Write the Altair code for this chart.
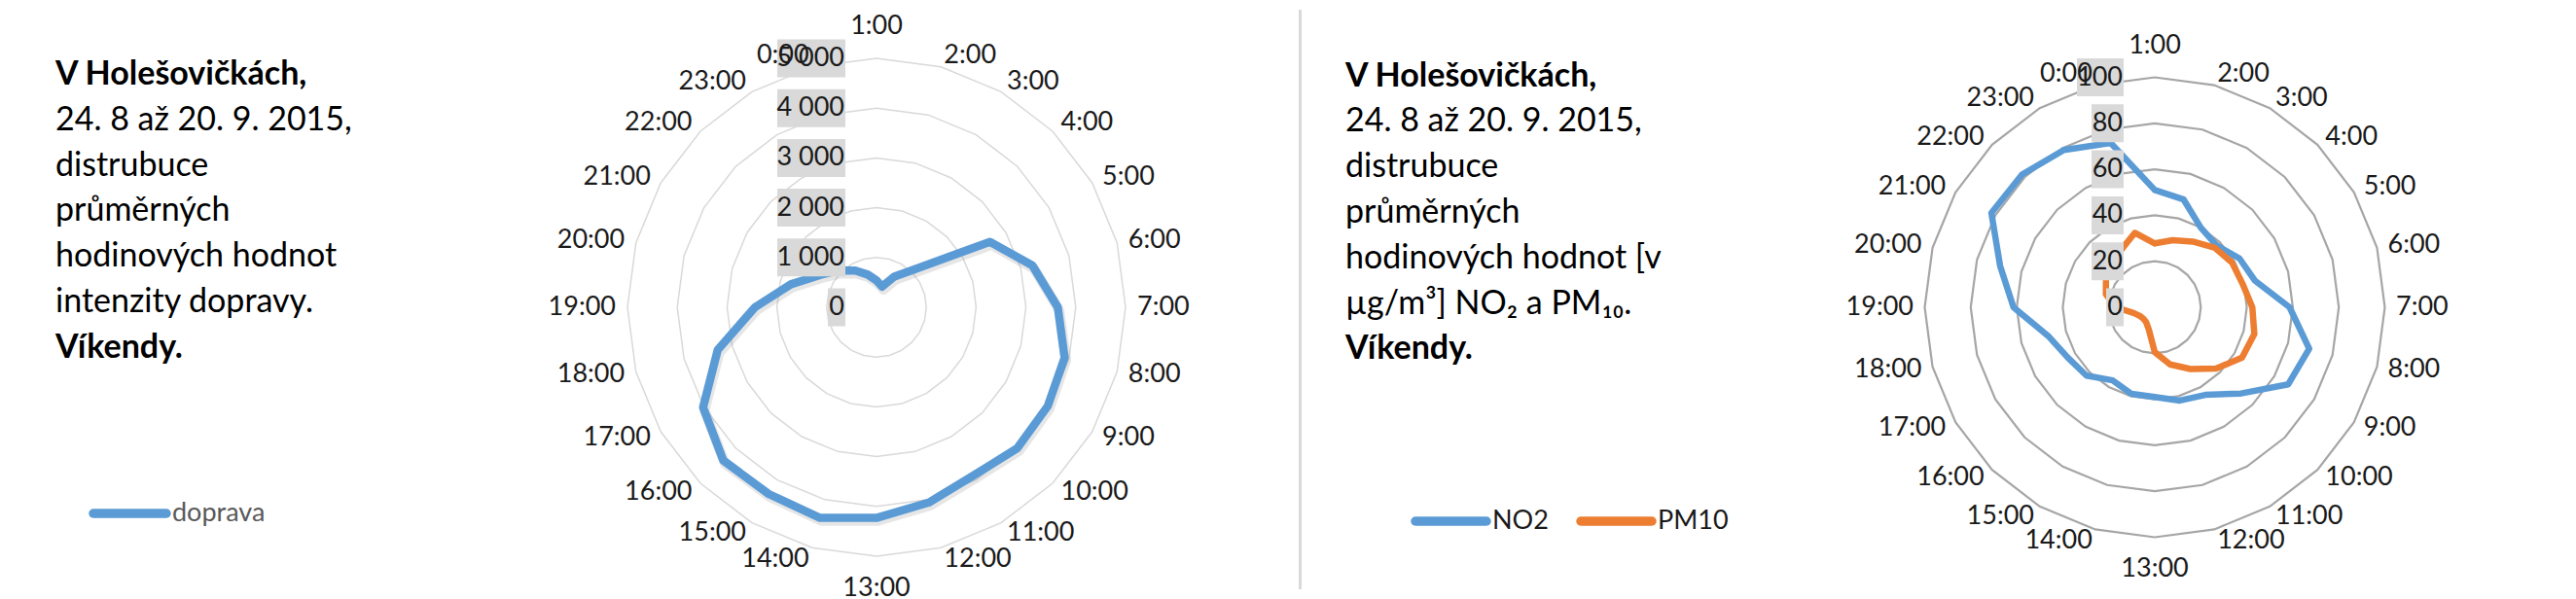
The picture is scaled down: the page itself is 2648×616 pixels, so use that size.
import altair as alt
import pandas as pd

# ---------------- data ----------------
hours = ["1:00", "2:00", "3:00", "4:00", "5:00", "6:00", "7:00", "8:00",
         "9:00", "10:00", "11:00", "12:00", "13:00", "14:00", "15:00", "16:00",
         "17:00", "18:00", "19:00", "20:00", "21:00", "22:00", "23:00", "0:00"]

doprava = [540, 430, 710, 1080, 2630, 3240, 3640, 3910, 3970, 4000, 3900, 4060,
           4230, 4380, 4330, 4350, 4020, 3300, 2440, 1780, 1300, 1050, 850, 680]

no2 = [51, 48.5, 40, 38, 42.5, 45, 58.6, 69.5, 67, 53, 44, 42,
       39, 39, 36.7, 42, 43.7, 48, 61.4, 69.6, 82, 81.6, 79, 74]

pm10 = [27.8, 30.2, 33, 36.7, 38.8, 39.5, 42.4, 44.8, 43.8, 37.7, 31, 25.7,
        19.5, 10, 7.5, 7, 7.5, 9.5, 17, 22, 24.5, 26, 29, 33.5]

traffic_ticks = [0, 1000, 2000, 3000, 4000, 5000]
traffic_tick_labels = ["0", "1 000", "2 000", "3 000", "4 000", "5 000"]
pollutant_ticks = [0, 20, 40, 60, 80, 100]
pollutant_tick_labels = ["0", "20", "40", "60", "80", "100"]

series_1 = ["doprava"]
series_2 = ["NO2", "PM10"]

text_1 = ["V Holešovičkách,", "24. 8 až 20. 9. 2015,", "distrubuce", "průměrných",
          "hodinových hodnot", "intenzity dopravy.", "Víkendy."]
text_2 = ["V Holešovičkách,", "24. 8 až 20. 9. 2015,", "distrubuce", "průměrných",
          "hodinových hodnot [v", "µg/m³] NO₂ a PM₁₀.", "Víkendy."]
bold_rows = [0, 6]

BLUE = "#5b9bd5"
ORANGE = "#ed7d31"
FONT = "Lato"
H = 596


# ---------------- radar builder ----------------
def radar(names, values, colors, tick_vals, tick_labels, k, cx, cy, W,
          grid_color, grid_w, line_w, r_side, r_tb, shadow):
    n = len(hours)
    xs = alt.Scale(domain=[-cx / k, (W - cx) / k], nice=False, zero=False)
    ys = alt.Scale(domain=[-(H - cy) / k, cy / k], nice=False, zero=False)
    ang = f"datum.idx * 2 * PI / {n}"
    ex = alt.X("px:Q", scale=xs, axis=None)
    ey = alt.Y("py:Q", scale=ys, axis=None)

    ring_df = pd.DataFrame([{"level": v, "idx": i}
                            for v in tick_vals if v > 0 for i in range(n + 1)])
    rings = alt.Chart(ring_df).transform_calculate(
        px=f"datum.level * sin({ang})", py=f"datum.level * cos({ang})"
    ).mark_line(color=grid_color, strokeWidth=grid_w).encode(
        x=ex, y=ey, detail="level:N", order="idx:Q")

    rows = []
    for name, vals in zip(names, values):
        for i in range(n + 1):
            rows.append({"series": name, "idx": i, "value": vals[i % n]})
    line_df = pd.DataFrame(rows)
    line_base = alt.Chart(line_df).transform_calculate(
        px=f"datum.value * sin({ang})", py=f"datum.value * cos({ang})")
    lines = line_base.mark_line(strokeWidth=line_w, strokeJoin="round",
                                strokeCap="round").encode(
        x=ex, y=ey, order="idx:Q",
        color=alt.Color("series:N", scale=alt.Scale(domain=names, range=colors),
                        legend=None))
    layers = [rings]
    if shadow:
        shade = line_base.mark_line(color="#8c8c8c", opacity=0.22,
                                    strokeWidth=line_w + 2, strokeJoin="round",
                                    xOffset=1.5, yOffset=3).encode(
            x=ex, y=ey, order="idx:Q", detail="series:N")
        layers.append(shade)
    layers.append(lines)

    tick_df = pd.DataFrame({"value": tick_vals, "label": tick_labels})
    boxes = alt.Chart(tick_df).transform_calculate(
        nd="length(replace(datum.label, ' ', ''))"
    ).transform_calculate(
        wpx="datum.nd * 15 + (length(datum.label) - datum.nd) * 7 + 3"
    ).transform_calculate(
        xr=f"{-32 / k}"
    ).transform_calculate(
        xl=f"(-32 - datum.wpx) / {k}"
    ).transform_calculate(
        ylo=f"datum.value - {19.5 / k}"
    ).transform_calculate(
        yhi=f"datum.value + {19.5 / k}"
    ).mark_rect(color="#d9d9d9").encode(
        x=alt.X("xl:Q", scale=xs, axis=None), x2="xr:Q",
        y=alt.Y("ylo:Q", scale=ys, axis=None), y2="yhi:Q")
    tick_text = alt.Chart(tick_df).transform_calculate(
        px=f"{-33 / k}", py="datum.value"
    ).mark_text(align="right", baseline="middle", font=FONT, fontSize=27,
                color="#1a1a1a").encode(x=ex, y=ey, text="label:N")
    layers += [boxes, tick_text]

    lab_df = pd.DataFrame({"hour": hours, "idx": list(range(n))})

    def lab(flt, r, align):
        return alt.Chart(lab_df).transform_filter(flt).transform_calculate(
            px=f"{r / k} * sin({ang})", py=f"{r / k} * cos({ang})"
        ).mark_text(align=align, baseline="middle", font=FONT, fontSize=27,
                    color="#1a1a1a").encode(x=ex, y=ey, text="hour:N")

    half = n // 2
    layers += [
        lab("datum.idx == 0", r_tb, "center"),
        lab(f"datum.idx == {half}", r_tb, "center"),
        lab(f"datum.idx > 0 && datum.idx < {half}", r_side, "left"),
        lab(f"datum.idx > {half}", r_side, "right"),
    ]
    return alt.layer(*layers).properties(width=W, height=H)


# ---------------- text panel builder ----------------
def text_panel(lines, x0, y0, dy, W, leg_names, leg_colors, lx0, lstep, llen,
               ly, leg_color, sep_x=None):
    df = pd.DataFrame({"line": lines, "i": list(range(len(lines))),
                       "bold": [i in bold_rows for i in range(len(lines))]})
    base = alt.Chart(df).transform_calculate(ypx=f"{y0} + datum.i * {dy}")
    enc = dict(x=alt.value(x0), y=alt.Y("ypx:Q", scale=None, axis=None),
               text="line:N")
    normal = base.transform_filter("!datum.bold").mark_text(
        align="left", baseline="alphabetic", font=FONT, fontSize=34,
        color="#000000").encode(**enc)
    bold = base.transform_filter("datum.bold").mark_text(
        align="left", baseline="alphabetic", font=FONT, fontSize=34,
        fontWeight="bold", color="#000000").encode(**enc)

    leg_df = pd.DataFrame({"name": leg_names, "j": list(range(len(leg_names)))})
    lbase = alt.Chart(leg_df).transform_calculate(
        lx=f"{lx0} + datum.j * {lstep}",
        lx2=f"{lx0} + datum.j * {lstep} + {llen}",
        tx=f"{lx0} + datum.j * {lstep} + {llen + 6}")
    legline = lbase.mark_rule(strokeWidth=9.5, strokeCap="round").encode(
        x=alt.X("lx:Q", scale=None, axis=None), x2="lx2:Q", y=alt.value(ly),
        color=alt.Color("name:N", scale=alt.Scale(domain=leg_names,
                                                  range=leg_colors),
                        legend=None))
    legtext = lbase.mark_text(align="left", baseline="middle", font=FONT,
                              fontSize=27, color=leg_color).encode(
        x=alt.X("tx:Q", scale=None, axis=None), y=alt.value(ly), text="name:N")
    layers = []
    if sep_x is not None:
        sep = alt.Chart(pd.DataFrame({"s": [0]})).mark_rule(
            color="#d9d9d9", strokeWidth=3).encode(
            x=alt.value(sep_x), y=alt.value(0), y2=alt.value(H))
        layers.append(sep)
    layers += [normal, bold, legline, legtext]
    return alt.layer(*layers).properties(width=W, height=H)


p1 = text_panel(text_1, 49, 77, 46.8, 592, series_1, [BLUE], 88, 0, 75, 518,
                "#595959")
p2 = radar(series_1, [doprava], [BLUE], traffic_ticks, traffic_tick_labels,
           256 / 5000, 301, 306, 602, "#d9d9d9", 1.5, 8.5, 268, 289, True)
p3 = text_panel(text_2, 181, 78.5, 46.8, 698, series_2, [BLUE, ORANGE], 253,
                170, 73, 526, "#1a1a1a", sep_x=134.5)
p4 = radar(series_2, [no2, pm10], [BLUE, ORANGE], pollutant_ticks,
           pollutant_tick_labels, 236.5 / 100, 315, 306, 740, "#a6a6a6", 2.2,
           6.5, 248, 269, False)

chart = alt.hconcat(p1, p2, p3, p4, spacing=0, bounds="flush").resolve_scale(
    color="independent").configure_view(stroke=None).properties(
    padding=0, background="white")

chart.save("out.html", embed_options={"renderer": "svg", "actions": False})
